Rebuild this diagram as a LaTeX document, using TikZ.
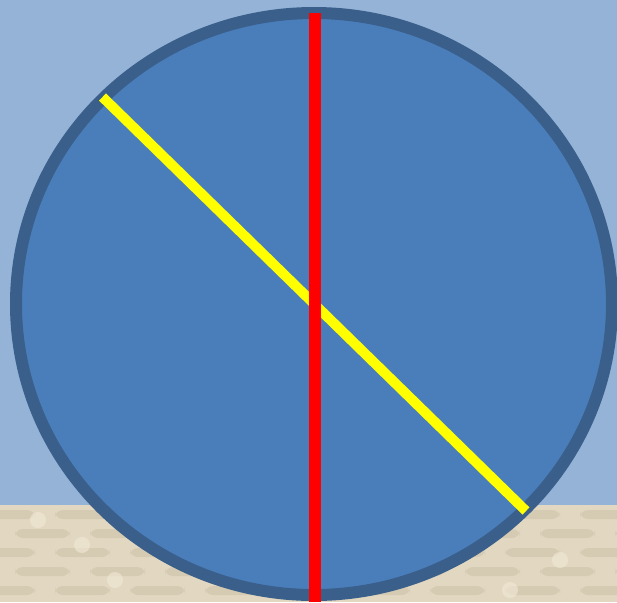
\documentclass[tikz,border=0pt]{standalone}
\usepackage{tikz}
\definecolor{skyBg}{RGB}{149,179,215}
\definecolor{sandBg}{RGB}{226,216,194}
\definecolor{sandDark}{RGB}{190,176,150}
\definecolor{sandLight}{RGB}{242,233,214}
\definecolor{discFill}{RGB}{74,126,187}
\definecolor{discLine}{RGB}{58,95,139}
\definecolor{axisRed}{RGB}{255,0,0}
\definecolor{axisYel}{RGB}{255,255,0}
\tikzset{
  sky/.style={fill=skyBg, draw=none},
  sand/.style={fill=sandBg, draw=none},
  grain/.style={fill=sandDark, draw=none, rounded corners=4pt, opacity=0.35},
  glint/.style={fill=sandLight, draw=none, opacity=0.6},
  disc/.style={fill=discFill, draw=discLine, line width=6pt},
  redaxis/.style={draw=axisRed, line width=6pt},
  yelaxis/.style={draw=axisYel, line width=5pt},
}
\begin{document}
\begin{tikzpicture}[x=0.5pt, y=-0.5pt]
  \useasboundingbox (0,0) rectangle (617,602);

  % ===== background ====================================================
  \fill[sky] (0,0) rectangle (617,505);
  \fill[sand] (0,505) rectangle (617,602);
  % brick-like texture of the sand strip
  \foreach \row in {0,1,2,3,4} {
    \pgfmathsetmacro{\gy}{510+\row*19}
    \pgfmathsetmacro{\sh}{mod(\row,2)*35}
    \foreach \col in {0,...,8}
      \fill[grain] ({\col*75-20+\sh},\gy) rectangle ++(55,9);
  }
  \foreach \gx/\gy in {38/520, 82/545, 115/580, 470/530, 560/560, 510/590}
    \fill[glint] (\gx,\gy) circle [radius=8];

  % ===== disc ==========================================================
  \coordinate (ctr) at (314,304);
  \draw[disc] (ctr) ellipse [x radius=298, y radius=291];

  % ===== axes ==========================================================
  \coordinate (redTop) at (315,13);
  \coordinate (redBot) at (315,602);
  \coordinate (yelTop) at (102.5,97);
  \coordinate (yelBot) at (526,511);
  \draw[yelaxis] (yelTop) -- (yelBot);
  \draw[redaxis] (redTop) -- (redBot);
\end{tikzpicture}
\end{document}
